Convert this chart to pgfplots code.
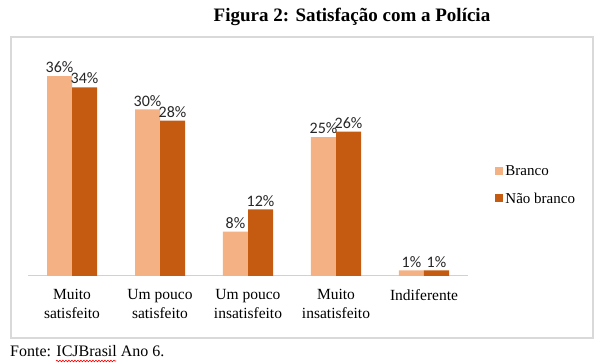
\documentclass[border=0pt]{standalone}
\usepackage{pgfplots}
\pgfplotsset{compat=1.18}
\usepackage{fontspec}
\setmainfont{Liberation Serif}
\newfontfamily\calib{Carlito}
\usetikzlibrary{decorations.pathmorphing}
\definecolor{cA}{HTML}{F4B183}
\definecolor{cB}{HTML}{C55A11}
\begin{document}
\begin{tikzpicture}[x=1pt,y=1pt]
\path[use as bounding box] (0,0) rectangle (600,364);
\draw[color=black!15, line width=1.2pt] (11,26) rectangle (593,327);
\node[font=\fontsize{19}{22}\selectfont\bfseries] at (352,347) {Figura 2: Satisfação com a Polícia};
\node[anchor=base west, font=\fontsize{16}{19}\selectfont, inner sep=0pt] at (10,7) {Fonte: ICJBrasil Ano 6.};
\draw[red, line width=0.6pt, decorate, decoration={snake, amplitude=0.8pt, segment length=3pt}] (56,3) -- (116,3);
\begin{axis}[
  at={(28pt,88pt)}, anchor=origin,
  scale only axis, width=440pt, height=222pt,
  xmin=0, xmax=5, ymin=0, ymax=40,
  enlargelimits=false,
  ybar=0pt, bar width=25pt,
  axis x line*=bottom, axis y line=none,
  x axis line style={draw=black!18, line width=1pt, -},
  xtick={0.5,1.5,2.5,3.5,4.5},
  xticklabels={{Muito\\satisfeito},{Um pouco\\satisfeito},{Um pouco\\insatisfeito},{Muito\\insatisfeito},{Indiferente}},
  major tick length=0pt,
  xticklabel style={align=center, font=\fontsize{15.5}{19}\selectfont, yshift=-10pt},
  /pgf/number format/assume math mode=true,
  nodes near coords={\pgfmathprintnumber{\pgfplotspointmeta}\%},
  nodes near coords style={font=\calib\fontsize{16}{18}\selectfont, text=black!85, inner sep=3pt},
  legend style={at={(1.062,0.41)}, anchor=west, draw=none, inner sep=0pt,
    font=\fontsize{15}{17}\selectfont, row sep=12pt, cells={anchor=west}},
  legend image code/.code={\fill[#1] (0pt,-3.5pt) rectangle (8pt,4.5pt);},
]
\addplot[draw=none, fill=cA] coordinates {(0.5,36) (1.5,30) (2.5,8) (3.5,25) (4.5,1)};
\addplot[draw=none, fill=cB] coordinates {(0.5,34) (1.5,28) (2.5,12) (3.5,26) (4.5,1)};
\legend{Branco, Não branco}
\end{axis}
\end{tikzpicture}
\end{document}
